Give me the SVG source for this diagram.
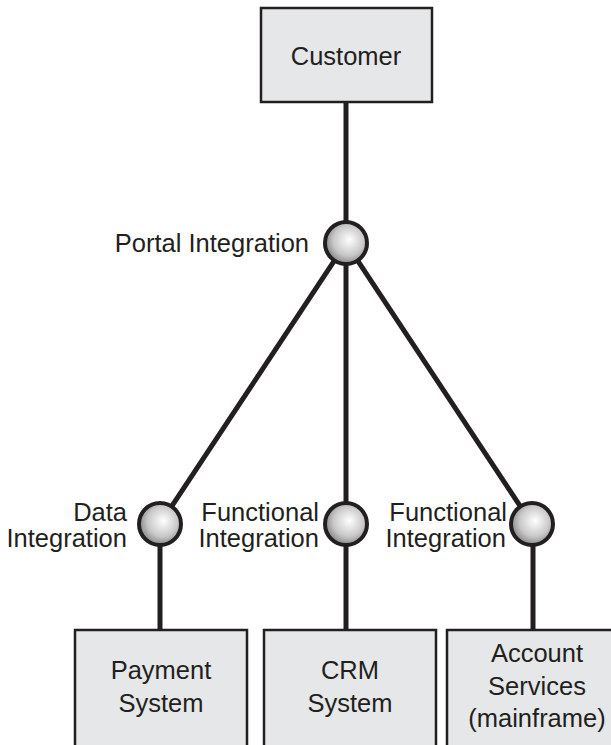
<svg xmlns="http://www.w3.org/2000/svg" width="611" height="745" viewBox="0 0 611 745">
<style>
.box{fill:#e6e7e8;stroke:#231f20;stroke-width:2.5}
.ln{stroke:#231f20;stroke-width:5;fill:none}
.hub{fill:url(#g);stroke:#231f20;stroke-width:4}
text{font-family:"Liberation Sans",Arial,sans-serif;font-size:25.5px;fill:#231f20}
.c{text-anchor:middle}
.e{text-anchor:end}
</style>
<defs>
<radialGradient id="g" cx="0.55" cy="0.45" r="0.6" fx="0.58" fy="0.42">
<stop offset="0" stop-color="#ffffff"/>
<stop offset="0.6" stop-color="#c8c8c8"/>
<stop offset="1" stop-color="#7a7a7a"/>
</radialGradient>
</defs>
<rect width="611" height="745" fill="#ffffff"/>
<g id="connectors">
<line class="ln" x1="346" y1="102" x2="346" y2="243"/>
<line class="ln" x1="346" y1="243" x2="160" y2="524"/>
<line class="ln" x1="346" y1="243" x2="346" y2="524"/>
<line class="ln" x1="346" y1="243" x2="532" y2="524"/>
<line class="ln" x1="160" y1="524" x2="160" y2="630"/>
<line class="ln" x1="346" y1="524" x2="346" y2="630"/>
<line class="ln" x1="533" y1="524" x2="533" y2="630"/>
</g>
<g id="customer">
<rect class="box" x="261" y="8" width="171" height="94"/>
<text class="c" x="346" y="65">Customer</text>
</g>
<g id="portal">
<circle class="hub" cx="346" cy="243" r="21"/>
<text class="e" x="309" y="252">Portal Integration</text>
</g>
<g id="data-integration">
<circle class="hub" cx="160" cy="524" r="21"/>
<text class="e" x="127" y="521">Data</text>
<text class="e" x="127" y="547">Integration</text>
</g>
<g id="functional-integration-1">
<circle class="hub" cx="346" cy="524" r="21"/>
<text class="e" x="319" y="521">Functional</text>
<text class="e" x="319" y="547">Integration</text>
</g>
<g id="functional-integration-2">
<circle class="hub" cx="532" cy="524" r="21"/>
<text class="e" x="507" y="521">Functional</text>
<text class="e" x="506" y="547">Integration</text>
</g>
<g id="payment">
<rect class="box" x="75" y="630" width="172" height="130"/>
<text class="c" x="161" y="679">Payment</text>
<text class="c" x="161" y="712">System</text>
</g>
<g id="crm">
<rect class="box" x="264" y="630" width="172" height="130"/>
<text class="c" x="350" y="679">CRM</text>
<text class="c" x="350" y="712">System</text>
</g>
<g id="account">
<rect class="box" x="447" y="630" width="180" height="130"/>
<text class="c" x="537" y="662">Account</text>
<text class="c" x="537" y="695">Services</text>
<text class="c" x="537" y="727">(mainframe)</text>
</g>
</svg>
